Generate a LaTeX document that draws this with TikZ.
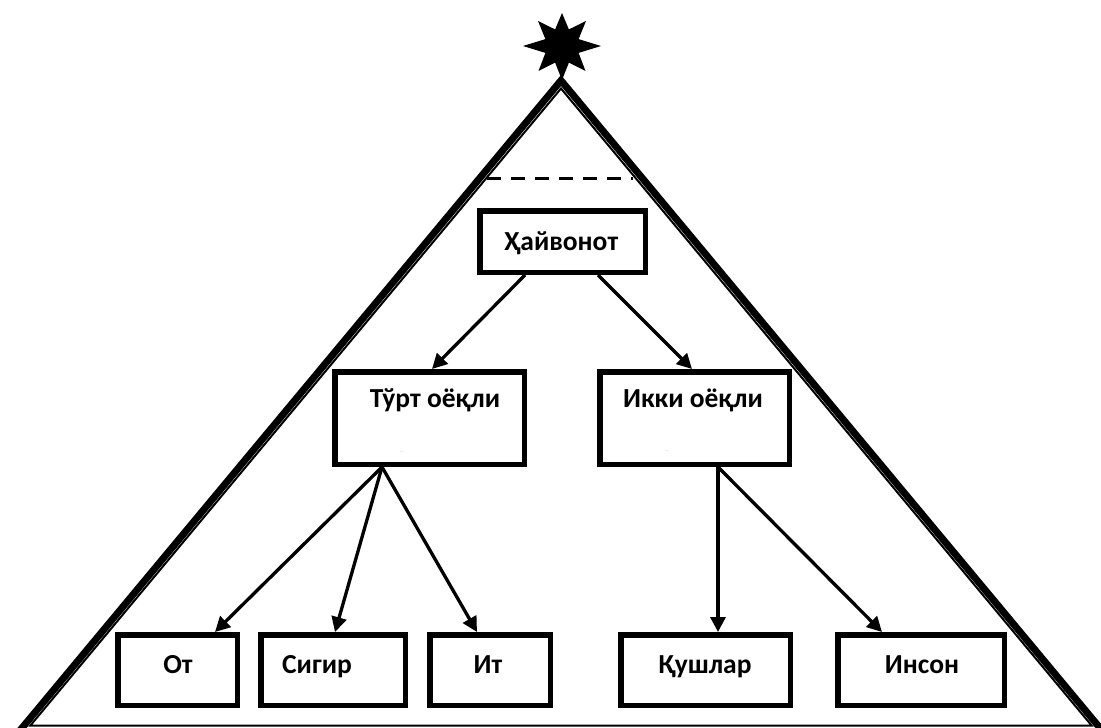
\documentclass[tikz,border=0pt]{standalone}
\usepackage{fontspec}
\setmainfont{Carlito}
\usetikzlibrary{arrows.meta,calc}
\begin{document}
\begin{tikzpicture}[x=1pt,y=-1pt,
  box/.style={draw, line width=5.5pt, rectangle, inner sep=0pt},
  lbl/.style={font=\fontsize{27.5}{32}\selectfont\bfseries, anchor=base, inner sep=0pt},
  conn/.style={line width=3.3pt, -{Triangle[length=15pt,width=15pt]}},
  tinymark/.style={font=\fontsize{4}{4}\selectfont, text=gray, inner sep=0pt},
  ]
\useasboundingbox (0,0) rectangle (1101,728);
\clip (0,0) rectangle (1101,728);
% triangle: thick outer, thin inner
\draw[line width=7pt, line join=miter, miter limit=20] (12,740) -- (561,80.5) -- (1110,740);
\draw[line width=2pt, line join=miter, miter limit=20] (30.4,725.5) -- (561,88.5) -- (1091.6,725.5) -- cycle;
% star
\fill (562,46)
  +(0,-33) -- +(6.9,-16.6) -- +(24,-25) -- +(16.6,-6.9) -- +(39,0) -- +(16.6,6.9)
  -- +(23.5,25) -- +(6.9,16.6) -- +(0,34) -- +(-6.9,16.6) -- +(-23.5,25) -- +(-16.6,6.9)
  -- +(-39,0) -- +(-16.6,-6.9) -- +(-24,-25) -- +(-6.9,-16.6) -- cycle;
% dashed line
\draw[line width=3pt, dash pattern=on 14pt off 10pt] (487,178) -- (633,178);
% boxes
\node[box, minimum width=165.5pt, minimum height=61.5pt] (hay) at (562.5,241.5) {};
\node[box, minimum width=189.5pt, minimum height=92.5pt] (tort) at (429.5,418) {};
\node[box, minimum width=189.5pt, minimum height=92.5pt] (ikki) at (694.5,418) {};
\node[box, minimum width=119.5pt, minimum height=70.5pt] (ot) at (177.5,670) {};
\node[box, minimum width=144.5pt, minimum height=70.5pt] (sigir) at (333,670) {};
\node[box, minimum width=120.5pt, minimum height=70.5pt] (it) at (490,670) {};
\node[box, minimum width=169.5pt, minimum height=70.5pt] (qush) at (705.5,670) {};
\node[box, minimum width=166.5pt, minimum height=70.5pt] (inson) at (921,670) {};
% labels
\node[lbl] (hayt) at (561,250) {Ҳайвонот};
\node[lbl] (tortt) at (435,407) {Тўрт оёқли};
\node[lbl] (ikkit) at (693,407) {Икки оёқли};
\node[lbl] (ott) at (178,673) {От};
\node[lbl] (sigirt) at (317,673) {Сигир};
\node[lbl] (itt) at (488,673) {Ит};
\node[lbl] (qusht) at (705,673) {Қушлар};
\node[lbl] (insont) at (922,673) {Инсон};
\node[tinymark] (m1) at (402,453) {- -};
\node[tinymark] (m2) at (667,452) {- -};
% connectors
\draw[conn] ([xshift=-37.5pt]hay.south) -- ([xshift=2.5pt]tort.north);
\draw[conn] ([xshift=35.5pt]hay.south) -- ([xshift=-2.5pt]ikki.north);
\draw[conn] ([xshift=-47.5pt]tort.south) -- ([xshift=37.5pt]ot.north);
\draw[conn] ([xshift=-47.5pt]tort.south) -- ([xshift=2pt]sigir.north);
\draw[conn] ([xshift=-47.5pt]tort.south) -- ([xshift=-13pt]it.north);
\draw[conn] ([xshift=23.5pt]ikki.south) -- ([xshift=12.5pt]qush.north);
\draw[conn] ([xshift=23.5pt]ikki.south) -- ([xshift=-39pt]inson.north);
\end{tikzpicture}
\end{document}
